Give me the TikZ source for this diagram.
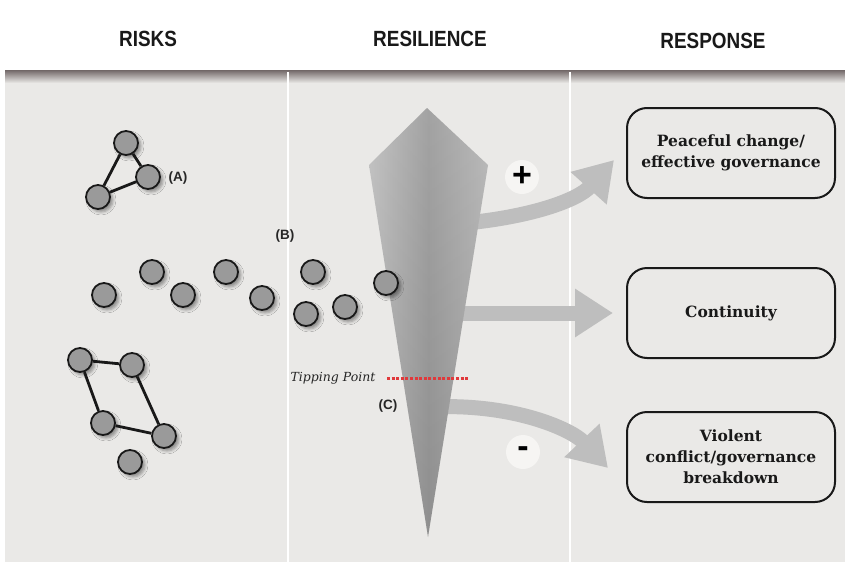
\documentclass[tikz,border=0pt]{standalone}
\usepackage{fontspec}
\setmainfont{DejaVu Serif}
\newfontfamily\headfont[FakeStretch=0.86]{Liberation Sans}
\newfontfamily\labfont{Liberation Sans}
\usetikzlibrary{arrows.meta,shadows,shadows.blur}
\definecolor{bg}{HTML}{EAE9E7}
\definecolor{nodegray}{HTML}{9A9A9A}
\definecolor{arrowgray}{HTML}{BEBEBE}
\definecolor{tipred}{HTML}{E0393B}
\definecolor{hdrshadow}{HTML}{716767}
\definecolor{signbg}{HTML}{F6F5F3}
\definecolor{spikeL}{HTML}{BFBFBF}
\definecolor{spikeM}{HTML}{9B9B9B}
\definecolor{spikeR}{HTML}{B5B5B5}
\begin{document}
\begin{tikzpicture}[x=1pt,y=-1pt,
  header/.style={font=\headfont\bfseries\fontsize{22}{26}\selectfont, text=black!90},
  risk/.style={circle, minimum size=24pt, inner sep=0pt, fill=nodegray, draw=black!90, line width=1.8pt,
    blur shadow={shadow xshift=3pt, shadow yshift=-3pt, shadow blur radius=3pt, shadow opacity=40}},
  link/.style={draw=black!90, line width=2.8pt},
  tag/.style={font=\labfont\bfseries\fontsize{13.5}{16}\selectfont, text=black!85},
  flow/.style={draw=arrowgray, line width=15pt, -{Triangle[length=38pt,width=46pt]}},
  sign/.style={circle, fill=signbg, minimum size=34pt, inner sep=0pt, font=\labfont\bfseries\fontsize{34}{34}\selectfont},
  resp/.style={draw=black!90, line width=2pt, rounded corners=20pt, minimum width=208pt, minimum height=90pt,
    align=center, font=\bfseries\fontsize{15.5}{21}\selectfont, text=black!90}
]
\useasboundingbox (0,0) rectangle (845,562);
% backgrounds
\fill[white] (0,0) rectangle (845,562);
\fill[bg] (5,70) rectangle (845,562);
\shade[top color=hdrshadow, bottom color=bg] (5,70) rectangle (845,83);
% separators
\draw[white, line width=1.5pt] (288,72) -- (288,562);
\draw[white, line width=1.5pt] (570,72) -- (570,562);
% headers
\node[header] (hrisk) at (148,39) {RISKS};
\node[header] (hres) at (430,39) {RESILIENCE};
\node[header] (hresp) at (713,41) {RESPONSE};
% flow arrows
\coordinate (s1) at (455,224);
\coordinate (t1) at (614,160);
\coordinate (s2) at (450,313);
\coordinate (t2) at (613,313);
\coordinate (s3) at (430,407);
\coordinate (t3) at (608,468);
\draw[flow] (s1) .. controls (530,218) and (578,200) .. (t1);
\draw[flow] (s2) -- (t2);
\draw[flow] (s3) .. controls (515,403) and (572,430) .. (t3);
% resilience spike
\shade[left color=spikeL, right color=spikeR, middle color=spikeM]
  (427,108) -- (488,165) -- (428,537) -- (369,165) -- cycle;
\shade[top color=white, bottom color=black, opacity=0.08]
  (427,108) -- (488,165) -- (428,537) -- (369,165) -- cycle;
% signs
\node[sign] (plus) at (522,177) {+};
\node[sign] (minus) at (523,452) {-};
% cluster A
\node[risk] (a1) at (126,143) {};
\node[risk] (a2) at (148,177) {};
\node[risk] (a3) at (98,197) {};
\draw[link] (a1) -- (a2);
\draw[link] (a1) -- (a3);
\draw[link] (a2) -- (a3);
\node[tag] (la) at (178,178) {(A)};
% scattered B
\node[risk] (b1) at (104,295) {};
\node[risk] (b2) at (152,272) {};
\node[risk] (b3) at (183,295) {};
\node[risk] (b4) at (226,272) {};
\node[risk] (b5) at (262,298) {};
\node[risk] (b6) at (313,272) {};
\node[risk] (b7) at (306,314) {};
\node[risk] (b8) at (345,307) {};
\node[risk] (b9) at (386,283) {};
\node[tag] (lb) at (285,236) {(B)};
% cluster lower
\node[risk] (c1) at (80,360) {};
\node[risk] (c2) at (132,365) {};
\node[risk] (c3) at (103,423) {};
\node[risk] (c4) at (164,436) {};
\node[risk] (c5) at (130,462) {};
\draw[link] (c1) -- (c2);
\draw[link] (c1) -- (c3);
\draw[link] (c2) -- (c4);
\draw[link] (c3) -- (c4);
% tipping point
\coordinate (tp1) at (387,378);
\coordinate (tp2) at (468,378);
\draw[tipred, line width=3pt, dash pattern=on 3pt off 1.6pt] (tp1) -- (tp2);
\node[anchor=east, font=\itshape\fontsize{12.5}{14}\selectfont, text=black!85] (tplab) at (379,378) {Tipping Point};
\node[tag] (lc) at (388,406) {(C)};
% responses
\node[resp] (r1) at (731,153) {Peaceful change/\\effective governance};
\node[resp] (r2) at (731,313) {Continuity};
\node[resp] (r3) at (731,457) {Violent\\conflict/governance\\breakdown};
\end{tikzpicture}
\end{document}
